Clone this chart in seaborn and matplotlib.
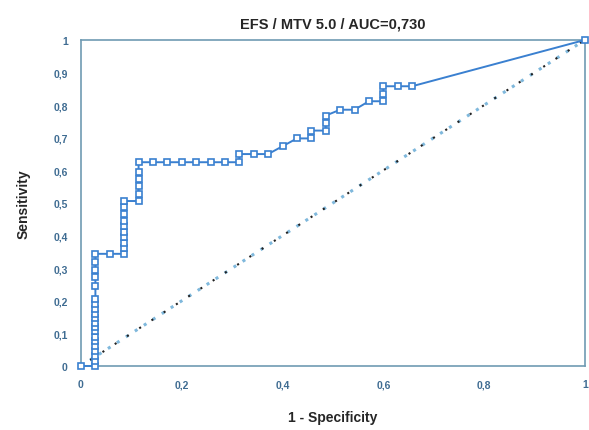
import pandas as pd
import matplotlib.pyplot as plt
import seaborn as sns

# ROC curve points (1 - specificity, sensitivity)
fpr = [0.0,
       0.0286, 0.0286, 0.0286, 0.0286, 0.0286, 0.0286, 0.0286, 0.0286, 0.0286, 0.0286,
       0.0286, 0.0286, 0.0286, 0.0286, 0.0286, 0.0286, 0.0286, 0.0286, 0.0286, 0.0286,
       0.0571,
       0.0857, 0.0857, 0.0857, 0.0857, 0.0857, 0.0857, 0.0857, 0.0857, 0.0857, 0.0857,
       0.1143, 0.1143, 0.1143, 0.1143, 0.1143, 0.1143,
       0.1429, 0.1714, 0.2, 0.2286, 0.2571, 0.2857, 0.3143, 0.3143,
       0.3429, 0.3714, 0.4, 0.4286, 0.4571, 0.4571, 0.4857, 0.4857, 0.4857,
       0.5143, 0.5429, 0.5714, 0.6, 0.6, 0.6, 0.6286, 0.6571, 1.0]
tpr = [0.0,
       0.0, 0.015, 0.031, 0.046, 0.061, 0.077, 0.089, 0.107, 0.120, 0.132,
       0.147, 0.160, 0.175, 0.190, 0.206, 0.246, 0.272, 0.294, 0.318, 0.344,
       0.344,
       0.344, 0.361, 0.377, 0.395, 0.412, 0.428, 0.446, 0.466, 0.487, 0.506,
       0.506, 0.528, 0.553, 0.574, 0.594, 0.625,
       0.625, 0.625, 0.625, 0.625, 0.625, 0.625, 0.625, 0.65,
       0.65, 0.65, 0.674, 0.698, 0.698, 0.722, 0.722, 0.745, 0.768,
       0.786, 0.786, 0.812, 0.812, 0.835, 0.858, 0.858, 0.858, 1.0]
ref_x = [0.0, 1.0]
ref_y = [0.0, 1.0]

x_ticks = [0, 0.2, 0.4, 0.6, 0.8, 1]
x_labels = ['0', '0,2', '0,4', '0,6', '0,8', '1']
y_ticks = [0, 0.1, 0.2, 0.3, 0.4, 0.5, 0.6, 0.7, 0.8, 0.9, 1]
y_labels = ['0', '0,1', '0,2', '0,3', '0,4', '0,5', '0,6', '0,7', '0,8', '0,9', '1']

sns.set_style('white')
plt.rcParams['font.family'] = ['Liberation Sans', 'DejaVu Sans']

df = pd.DataFrame({'fpr': fpr, 'tpr': tpr})
ref = pd.DataFrame({'x': ref_x, 'y': ref_y})

fig = plt.figure(figsize=(5.89, 4.31), dpi=100)
ax = fig.add_axes([0.1375, 0.1485, 0.8555, 0.7565])

frame = '#6f9bb3'
curve = '#3a80d0'

# diagonal reference: light blue and dark dots interleaved
sns.lineplot(data=ref, x='x', y='y', ax=ax, color='#7fb8dc', lw=2.2,
             linestyle=(0, (1, 2.5)), estimator=None)
sns.lineplot(data=ref, x='x', y='y', ax=ax, color='#222222', lw=1.5,
             linestyle=(1.7, (1, 6)), estimator=None)

sns.lineplot(data=df, x='fpr', y='tpr', ax=ax, sort=False, estimator=None,
             color=curve, lw=1.4, marker='s', markersize=4.6,
             markerfacecolor='white', markeredgecolor=curve, markeredgewidth=1.2,
             clip_on=False, zorder=5)

ax.set_xlim(0, 1)
ax.set_ylim(0, 1)
ax.set_xticks(x_ticks)
ax.set_xticklabels(x_labels)
ax.set_yticks(y_ticks)
ax.set_yticklabels(y_labels)
ax.tick_params(direction='inout', length=7, width=1, color=frame,
               labelsize=7.5, labelcolor='#3f6c92', pad=6)
for lab in ax.get_xticklabels() + ax.get_yticklabels():
    lab.set_fontweight('bold')
for side in ax.spines.values():
    side.set_color(frame)
    side.set_linewidth(1.2)

ax.set_title('EFS / MTV 5.0 / AUC=0,730', fontsize=10.5, fontweight='bold', pad=9)
ax.set_xlabel('1 - Specificity', fontsize=10, fontweight='bold', labelpad=15)
ax.set_ylabel('Sensitivity', fontsize=10, fontweight='bold', labelpad=16)

fig.savefig('out.png', dpi=100)
